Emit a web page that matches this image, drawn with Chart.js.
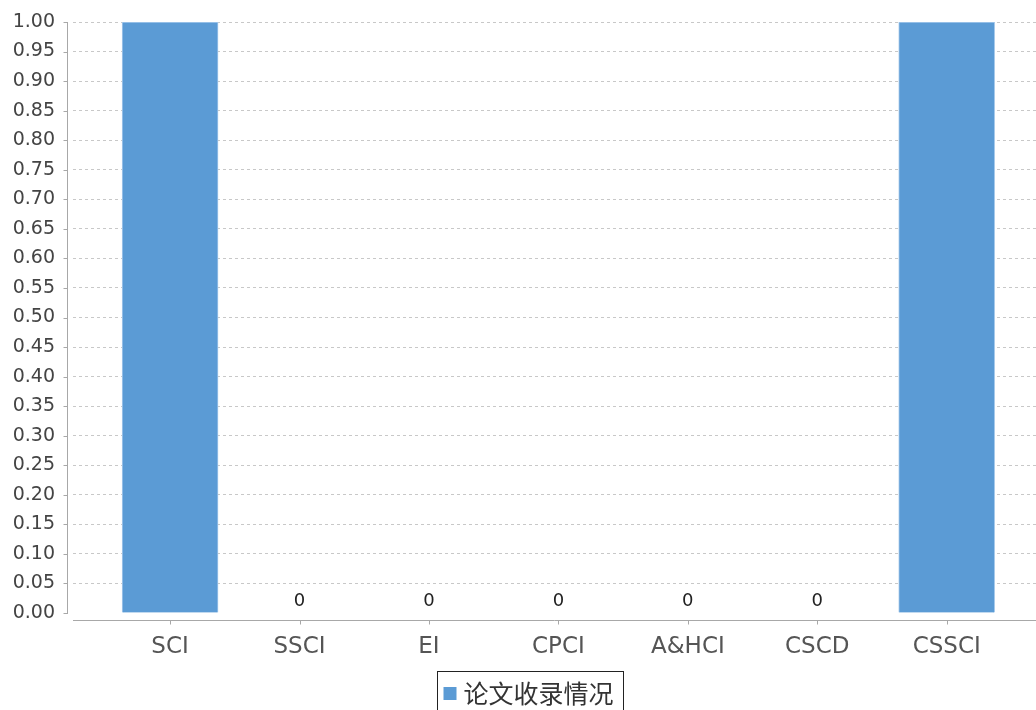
<!DOCTYPE html>
<html>
<head>
<meta charset="utf-8">
<script src="https://cdn.jsdelivr.net/npm/chart.js@4.4.1/dist/chart.umd.min.js"></script>
<style>
  html, body { margin: 0; padding: 0; background: #fff; }
  #wrap { width: 1036px; height: 710px; position: relative; }
</style>
</head>
<body>
<div id="wrap"><canvas id="chart"></canvas></div>
<script>
const categories = ["SCI", "SSCI", "EI", "CPCI", "A&HCI", "CSCD", "CSSCI"];
const counts = [1, 0, 0, 0, 0, 0, 1];
const seriesName = "论文收录情况";
const yMin = 0;
const yMax = 1;
const yStep = 0.05;

const barColor = "#5b9bd5";
const axisColor = "#a8a8a8";

// axis lines sit a few px off the plot area, like the original
const axisLines = {
  id: "axisLines",
  afterDraw(chart) {
    const { ctx, chartArea, scales } = chart;
    const x = scales.x;
    const y = scales.y;
    ctx.save();
    ctx.strokeStyle = axisColor;
    ctx.lineWidth = 1;
    ctx.beginPath();
    const ax = Math.round(chartArea.left) - 6 + 0.5;
    ctx.moveTo(ax, Math.round(y.getPixelForValue(yMax)));
    ctx.lineTo(ax, Math.round(y.getPixelForValue(yMin)) + 1);
    y.ticks.forEach((t) => {
      const py = Math.round(y.getPixelForValue(t.value)) + 0.5;
      ctx.moveTo(ax - 4, py);
      ctx.lineTo(ax, py);
    });
    const bx = Math.round(chartArea.bottom) + 7 + 0.5;
    ctx.moveTo(chartArea.left, bx);
    ctx.lineTo(chartArea.right, bx);
    x.ticks.forEach((t) => {
      const px = Math.round(x.getPixelForValue(t.value)) + 0.5;
      ctx.moveTo(px, bx);
      ctx.lineTo(px, bx + 4);
    });
    ctx.stroke();

    // legend box
    ctx.font = '25px "Noto Sans CJK SC", sans-serif';
    const tw = ctx.measureText(seriesName).width;
    const boxW = tw + 36;
    const left = Math.round(530 - boxW / 2) + 0.5;
    const top = 671.5;
    ctx.strokeStyle = "#222";
    ctx.strokeRect(left, top, boxW, 60);
    ctx.fillStyle = barColor;
    ctx.fillRect(left + 6, 687, 13, 13);
    ctx.fillStyle = "#333";
    ctx.textBaseline = "middle";
    ctx.textAlign = "left";
    ctx.fillText(seriesName, left + 26, 693);
    ctx.restore();
  },
  afterDatasetsDraw(chart) {
    const { ctx, chartArea } = chart;
    const meta = chart.getDatasetMeta(0);
    ctx.save();
    ctx.font = '18px "DejaVu Sans", sans-serif';
    ctx.fillStyle = "#222";
    ctx.textAlign = "center";
    ctx.textBaseline = "middle";
    meta.data.forEach((bar, i) => {
      const ly = bar.y - 12;
      if (ly - 8 < chartArea.top) return;
      ctx.fillText(String(counts[i]), bar.x, ly);
    });
    ctx.restore();
  },
};

new Chart(document.getElementById("chart"), {
  type: "bar",
  data: {
    datasets: [
      {
        label: seriesName,
        data: counts.map((v, i) => ({ x: i, y: v })),
        backgroundColor: barColor,
        borderColor: "#a9cbec",
        borderWidth: 1,
        barThickness: 96,
      },
    ],
  },
  plugins: [axisLines],
  options: {
    responsive: true,
    maintainAspectRatio: false,
    animation: false,
    layout: { padding: { top: 22, right: 0, bottom: 0, left: 0 } },
    plugins: {
      legend: { display: false },
      tooltip: { enabled: false },
    },
    scales: {
      x: {
        type: "linear",
        bounds: "data",
        offset: false,
        min: -0.75,
        max: 6.69,
        afterBuildTicks(scale) {
          scale.ticks = categories.map((c, i) => ({ value: i }));
        },
        afterFit(scale) {
          scale.height = 97;
        },
        grid: { display: false, drawTicks: false, offset: false },
        border: { display: false },
        ticks: {
          padding: 20,
          autoSkip: false,
          maxRotation: 0,
          color: "#555",
          font: { family: "DejaVu Sans", size: 23 },
          callback: (v) => categories[v] ?? "",
        },
      },
      y: {
        min: yMin,
        max: yMax,
        afterFit(scale) {
          scale.width = 73;
        },
        grid: {
          drawTicks: true,
          tickLength: 16,
          tickColor: "rgba(0,0,0,0)",
          color: (c) => (c.tick && c.tick.value === 0 ? "rgba(0,0,0,0)" : "#c8c8c8"),
          lineWidth: 1,
        },
        border: { display: false, dash: [3, 3] },
        ticks: {
          stepSize: yStep,
          padding: 2,
          color: "#444",
          font: { family: "DejaVu Sans", size: 19 },
          callback: (v) => Number(v).toFixed(2),
        },
      },
    },
  },
});
</script>
</body>
</html>
